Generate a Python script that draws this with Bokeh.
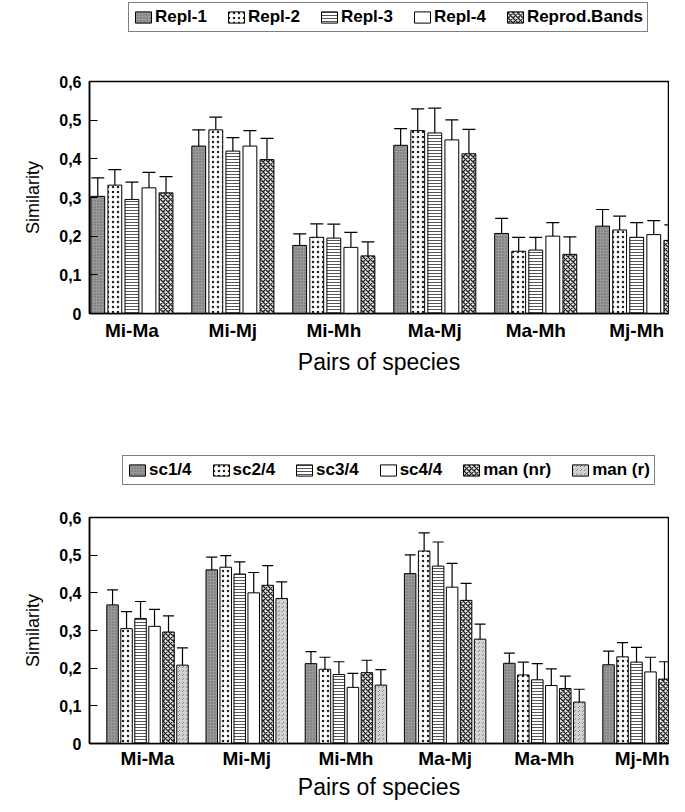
from bokeh.plotting import figure
from bokeh.models import (ColumnDataSource, Legend, LegendItem, Whisker, TeeHead,
                          FixedTicker, CustomJSTickFormatter, Range1d)
from bokeh.layouts import column
from bokeh.embed import file_html
from bokeh.resources import INLINE

# ---------------- data ----------------
pairs = ["Mi-Ma", "Mi-Mj", "Mi-Mh", "Ma-Mj", "Ma-Mh", "Mj-Mh"]
y_ticks = [0, 0.1, 0.2, 0.3, 0.4, 0.5, 0.6]

top_names = ["Repl-1", "Repl-2", "Repl-3", "Repl-4", "Reprod.Bands"]
repl1 = [0.303, 0.433, 0.176, 0.435, 0.207, 0.226]
repl1_err = [0.048, 0.042, 0.030, 0.043, 0.039, 0.043]
repl2 = [0.332, 0.475, 0.197, 0.473, 0.161, 0.216]
repl2_err = [0.040, 0.033, 0.035, 0.056, 0.036, 0.036]
repl3 = [0.295, 0.420, 0.195, 0.467, 0.164, 0.197]
repl3_err = [0.045, 0.035, 0.036, 0.064, 0.033, 0.038]
repl4 = [0.325, 0.433, 0.171, 0.449, 0.200, 0.204]
repl4_err = [0.040, 0.040, 0.039, 0.052, 0.035, 0.036]
reprod = [0.312, 0.398, 0.149, 0.413, 0.153, 0.189]
reprod_err = [0.042, 0.055, 0.036, 0.063, 0.045, 0.040]

bot_names = ["sc1/4", "sc2/4", "sc3/4", "sc4/4", "man (nr)", "man (r)"]
sc1 = [0.368, 0.461, 0.212, 0.451, 0.213, 0.209]
sc1_err = [0.040, 0.034, 0.032, 0.050, 0.027, 0.036]
sc2 = [0.305, 0.468, 0.197, 0.511, 0.182, 0.230]
sc2_err = [0.045, 0.031, 0.032, 0.048, 0.034, 0.038]
sc3 = [0.332, 0.450, 0.183, 0.471, 0.169, 0.216]
sc3_err = [0.045, 0.032, 0.034, 0.064, 0.043, 0.039]
sc4 = [0.311, 0.400, 0.149, 0.415, 0.154, 0.190]
sc4_err = [0.045, 0.054, 0.037, 0.063, 0.044, 0.039]
man_nr = [0.296, 0.420, 0.188, 0.380, 0.146, 0.171]
man_nr_err = [0.043, 0.052, 0.033, 0.045, 0.033, 0.046]
man_r = [0.208, 0.385, 0.155, 0.277, 0.110, 0.083]
man_r_err = [0.046, 0.044, 0.041, 0.040, 0.034, 0.028]

top_vals = [repl1, repl2, repl3, repl4, reprod]
top_errs = [repl1_err, repl2_err, repl3_err, repl4_err, reprod_err]
bot_vals = [sc1, sc2, sc3, sc4, man_nr, man_r]
bot_errs = [sc1_err, sc2_err, sc3_err, sc4_err, man_nr_err, man_r_err]

# ---------------- styles ----------------
S_GRAY = dict(fill_color="#999999", hatch_pattern="dot", hatch_color="#666666", hatch_scale=3, hatch_weight=1)
S_DOTS = dict(fill_color="white", hatch_pattern="dot", hatch_color="#222222", hatch_scale=5, hatch_weight=2)
S_HLINE = dict(fill_color="white", hatch_pattern="horizontal_line", hatch_color="#555555", hatch_scale=3, hatch_weight=1)
S_OPEN = dict(fill_color="white")
S_CHECK = dict(fill_color="#e8e8e8", hatch_pattern="diagonal_cross", hatch_color="#222222", hatch_scale=5, hatch_weight=1.3)
S_DIAG = dict(fill_color="#d2d2d2", hatch_pattern="right_diagonal_dash", hatch_color="#8a8a8a", hatch_scale=4, hatch_weight=1)

top_styles = [S_GRAY, S_DOTS, S_HLINE, S_OPEN, S_CHECK]
bot_styles = [S_GRAY, S_DOTS, S_HLINE, S_OPEN, S_CHECK, S_DIAG]

FONT = "Liberation Sans"
W = 669


def make_legend_fig(names, styles, height, border_left, loc, spacing):
    f = figure(width=W, height=height, output_backend="svg", toolbar_location=None,
               x_range=Range1d(0, 1), y_range=Range1d(0, 1),
               x_axis_type=None, y_axis_type=None,
               min_border_left=border_left, min_border_right=1,
               min_border_top=0, min_border_bottom=0)
    f.grid.visible = False
    f.outline_line_color = None
    items = []
    for j, nm in enumerate(names):
        src = ColumnDataSource(dict(x=[-10], top=[0]))
        r = f.vbar(x="x", top="top", width=0.1, source=src,
                   line_color="black", line_width=1, **styles[j])
        items.append(LegendItem(label=nm, renderers=[r]))
    leg = Legend(items=items, orientation="horizontal", location=loc,
                 border_line_color="black", border_line_width=1.5,
                 background_fill_color="white", background_fill_alpha=1,
                 label_text_font=FONT, label_text_font_style="bold",
                 label_text_font_size="17px", label_text_color="black",
                 label_height=19, glyph_width=20, glyph_height=14,
                 label_standoff=2, spacing=spacing, padding=4, margin=0)
    f.add_layout(leg, "center")
    return f


def make_panel(vals, errs, styles, height, border_left, border_top, border_bottom,
               x_start, x_end, step, bar_w, cap, lab_standoff, title_standoff):
    p = figure(width=W, height=height, output_backend="svg", toolbar_location=None,
               x_range=Range1d(x_start, x_end), y_range=Range1d(0, 0.6),
               min_border_left=border_left, min_border_right=1,
               min_border_top=border_top, min_border_bottom=border_bottom)
    p.grid.visible = False
    p.outline_line_color = "black"
    p.outline_line_width = 1.5
    p.background_fill_color = "white"
    p.border_fill_color = "white"

    n = len(vals)
    for j in range(n):
        xs = [i + (j - (n - 1) / 2) * step for i in range(len(pairs))]
        src = ColumnDataSource(dict(
            x=xs, top=vals[j],
            up=[v + e for v, e in zip(vals[j], errs[j])],
            lo=[v - e for v, e in zip(vals[j], errs[j])]))
        p.vbar(x="x", top="top", bottom=0, width=bar_w, source=src,
               line_color="black", line_width=1, **styles[j])
        w = Whisker(source=src, base="x", upper="up", lower="lo",
                    line_color="black", line_width=1.2,
                    upper_head=TeeHead(size=cap, line_color="black", line_width=1.2),
                    lower_head=TeeHead(size=cap, line_color="black", line_width=1.2))
        p.add_layout(w)

    ya = p.yaxis[0]
    ya.ticker = FixedTicker(ticks=y_ticks)
    ya.formatter = CustomJSTickFormatter(code="return tick == 0 ? '0' : tick.toFixed(1).replace('.', ',');")
    ya.major_tick_in = 8
    ya.major_tick_out = 0
    ya.minor_tick_line_color = None
    ya.axis_line_width = 1.5
    ya.major_label_text_font = FONT
    ya.major_label_text_font_style = "bold"
    ya.major_label_text_font_size = "16px"
    ya.major_label_text_color = "black"
    ya.major_label_standoff = 8
    ya.axis_label = "Similarity"
    ya.axis_label_text_font = FONT
    ya.axis_label_text_font_style = "normal"
    ya.axis_label_text_font_size = "18px"
    ya.axis_label_text_color = "black"
    ya.axis_label_standoff = 13

    xa = p.xaxis[0]
    xa.ticker = FixedTicker(ticks=list(range(len(pairs))))
    xa.major_label_overrides = {i: lab for i, lab in enumerate(pairs)}
    xa.major_tick_in = 0
    xa.major_tick_out = 0
    xa.minor_tick_line_color = None
    xa.axis_line_width = 1.5
    xa.major_label_text_font = FONT
    xa.major_label_text_font_style = "bold"
    xa.major_label_text_font_size = "19px"
    xa.major_label_text_color = "black"
    xa.major_label_standoff = lab_standoff
    xa.axis_label = "Pairs of species"
    xa.axis_label_text_font = FONT
    xa.axis_label_text_font_style = "normal"
    xa.axis_label_text_font_size = "23px"
    xa.axis_label_text_color = "black"
    xa.axis_label_standoff = title_standoff
    return p


leg_top = make_legend_fig(top_names, top_styles, height=34, border_left=83, loc=(39, 2), spacing=19)
p_top = make_panel(top_vals, top_errs, top_styles,
                   height=414, border_left=83, border_top=47, border_bottom=135,
                   x_start=-0.42, x_end=5.315, step=0.169, bar_w=0.137, cap=13,
                   lab_standoff=6, title_standoff=5)
leg_bot = make_legend_fig(bot_names, bot_styles, height=40, border_left=89, loc=(33, 3), spacing=19)
p_bot = make_panel(bot_vals, bot_errs, bot_styles,
                   height=314, border_left=89, border_top=29, border_bottom=56,
                   x_start=-0.585, x_end=5.252, step=0.141, bar_w=0.116, cap=11,
                   lab_standoff=4, title_standoff=2)

layout = column(leg_top, p_top, leg_bot, p_bot, spacing=0)
open("out.html", "w").write(file_html(layout, INLINE))
